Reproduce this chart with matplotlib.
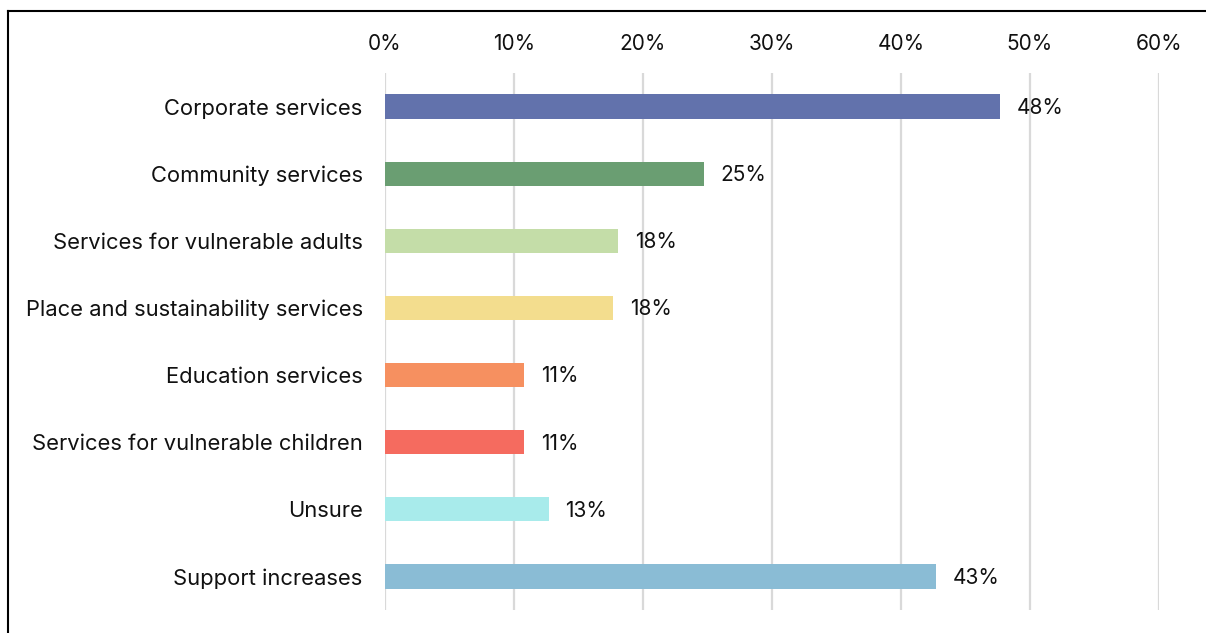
import matplotlib.pyplot as plt
from matplotlib.lines import Line2D

plt.rcParams['font.family'] = ['Inter', 'DejaVu Sans']

# share of responses per service area (%)
categories = ['Corporate services', 'Community services', 'Services for vulnerable adults',
              'Place and sustainability services', 'Education services',
              'Services for vulnerable children', 'Unsure', 'Support increases']
values = [47.7, 24.7, 18.1, 17.7, 10.8, 10.8, 12.7, 42.7]
colors = ['#6272AC', '#6A9E72', '#C4DDA8', '#F3DD8E', '#F69060', '#F56B5F', '#A8EBEB', '#8ABCD5']
ticks = [0, 10, 20, 30, 40, 50, 60]

fig = plt.figure(figsize=(12.06, 6.33), dpi=100)
ax = fig.add_axes([0.3192, 0.0363, 0.6418, 0.8484])

y = range(len(categories))
ax.barh(y, values, height=0.36, color=colors, zorder=3)
for i, v in enumerate(values):
    ax.text(v + 1.3, i + 0.02, f'{v:.0f}%', va='center', ha='left', fontsize=15, color='#111111')

ax.set_xlim(0, 60)
ax.set_ylim(len(categories) - 0.5, -0.5)
ax.set_yticks(list(y))
ax.set_yticklabels(categories, fontsize=15.8, color='#111111')
ax.set_xticks(ticks)
ax.set_xticklabels([f'{t}%' for t in ticks], fontsize=15, color='#111111')
ax.xaxis.tick_top()
ax.tick_params(axis='x', length=0, pad=14)
ax.tick_params(axis='y', length=0, pad=16)
ax.grid(axis='x', color='#D9D9D9', linewidth=1.6, zorder=0)
for s in ax.spines.values():
    s.set_visible(False)

# frame around the figure (top and left edges)
fig.add_artist(Line2D([8 / 1206, 8 / 1206], [0, 1 - 11 / 633], transform=fig.transFigure,
                      color='black', linewidth=1.5))
fig.add_artist(Line2D([8 / 1206, 1], [1 - 11 / 633, 1 - 11 / 633], transform=fig.transFigure,
                      color='black', linewidth=1.5))

fig.savefig('out.png', dpi=100)
